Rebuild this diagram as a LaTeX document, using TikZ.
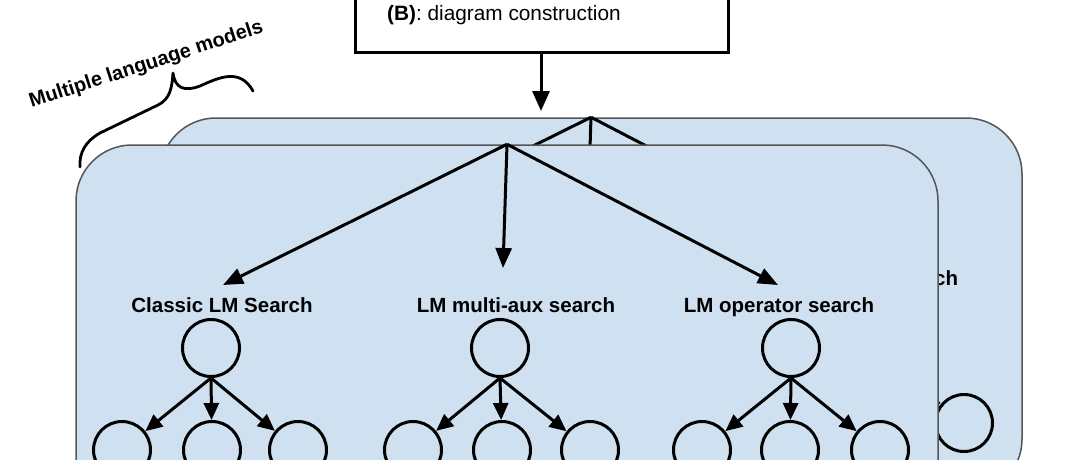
\documentclass[tikz,border=0pt]{standalone}
\usepackage{fontspec}
\setmainfont{Liberation Sans}
\usetikzlibrary{arrows.meta}
\definecolor{panelfill}{RGB}{207,224,241}
\definecolor{panelline}{RGB}{85,85,85}
\tikzset{
  panel/.style={draw=panelline, line width=1.5pt, fill=panelfill, rounded corners=56pt,
    minimum width=862pt, minimum height=377pt, inner sep=0pt},
  lab/.style={anchor=base, font=\fontsize{20.5}{24}\selectfont\bfseries, inner sep=0pt},
  circ/.style={circle, draw=black, line width=3pt, minimum size=57pt, inner sep=0pt},
  fan/.style={line width=3pt, -{Triangle[length=20pt,width=16pt]}},
  tree/.style={line width=3pt, -{Triangle[length=17pt,width=15pt]}},
  topbox/.style={draw=black, line width=3pt, minimum width=373pt, minimum height=82pt, inner sep=0pt},
  bracestyle/.style={line width=2.8pt, line cap=round, line join=round},
}
\newcommand\mypanel[1]{%
  \node[panel] (#1box) at (507,333.5) {};
  \node[lab] (#1l1) at (222,312) {Classic LM Search};
  \node[lab] (#1l2) at (516,312) {LM multi-aux search};
  \node[lab] (#1l3) at (779,312) {LM operator search};
  \coordinate (#1t1) at (223,285);
  \coordinate (#1t2) at (503,268);
  \coordinate (#1t3) at (778,285);
  \draw[fan] (#1box.north) -- (#1t1);
  \draw[fan] (#1box.north) -- (#1t2);
  \draw[fan] (#1box.north) -- (#1t3);
  \node[circ] (#1a) at (211,348) {};
  \node[circ] (#1a1) at (122,450) {};
  \node[circ] (#1a2) at (212,450) {};
  \node[circ] (#1a3) at (298,450) {};
  \node[circ] (#1b) at (500,348) {};
  \node[circ] (#1b1) at (413,450) {};
  \node[circ] (#1b2) at (502,450) {};
  \node[circ] (#1b3) at (590,450) {};
  \node[circ] (#1c) at (791,348) {};
  \node[circ] (#1c1) at (702,450) {};
  \node[circ] (#1c2) at (790,450) {};
  \node[circ] (#1c3) at (880,450) {};
  \foreach \p in {a,b,c}{
    \foreach \k in {1,2,3}{
      \draw[tree] (#1\p.south) -- (#1\p\k);
    }
  }
}
\begin{document}
\begin{tikzpicture}[x=1pt,y=-1pt]
\useasboundingbox (0,0) rectangle (1079,459);
\fill[white] (0,0) rectangle (1079,459);
\clip (0,0) rectangle (1079,459);
% top box
\node[topbox] (boxB) at (541.5,11) {};
\node[anchor=base west, font=\fontsize{20.8}{24}\selectfont, inner sep=0pt] (btext) at (387,20) {\textbf{(B)}: diagram construction};
\coordinate (arrowend) at (541,111);
\draw[line width=3pt, -{Triangle[length=20pt,width=17pt]}] (boxB.south -| arrowend) -- (arrowend);
% back panel
\begin{scope}[shift={(84,-27)}]
  \mypanel{b}
\end{scope}
% front panel
\mypanel{f}
% brace and its label
\draw[bracestyle] (80,167) .. controls (79,152) and (86,141) .. (100,133)
  -- (158,105) .. controls (170,99) and (172,88) .. (173,73)
  .. controls (175,88) and (184,92) .. (200,86)
  .. controls (220,77) and (240,68) .. (253,91);
\node[anchor=base, rotate=18, font=\fontsize{20}{24}\selectfont\bfseries, inner sep=0pt] (mlm) at (148,70) {Multiple language models};
\end{tikzpicture}
\end{document}
